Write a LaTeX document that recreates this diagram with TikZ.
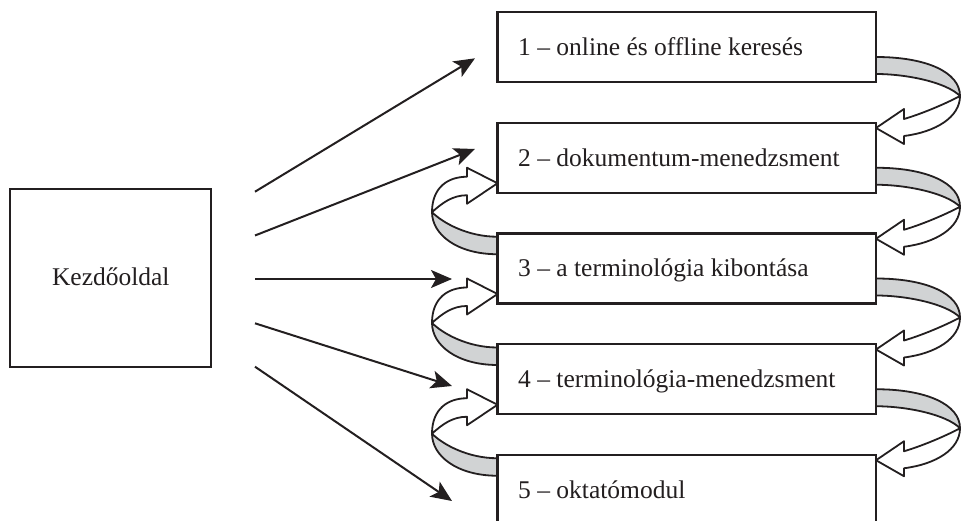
\documentclass[tikz,border=0pt]{standalone}
\usepackage{fontspec}
\setmainfont{Liberation Serif}
\usetikzlibrary{arrows.meta,calc}
\definecolor{ink}{RGB}{35,31,32}
\definecolor{band}{RGB}{209,211,212}
\tikzset{
  box/.style={draw=ink, line width=2.2pt, fill=white, minimum width=378.5pt, minimum height=70pt, inner sep=0pt, outer sep=0pt},
  startbox/.style={draw=ink, line width=2.2pt, fill=white, minimum width=201pt, minimum height=178pt, inner sep=0pt, outer sep=0pt},
  txt/.style={inner sep=0pt, font=\fontsize{25.5}{30}\selectfont, text=ink},
  lbl/.style={txt, anchor=base west},
  ribbon/.style={draw=ink, line width=1.8pt, line join=round},
  conn/.style={draw=ink, line width=2pt, -{Stealth[length=21pt,width=18pt,inset=5pt]}},
  rloop/.pic={
    \filldraw[ribbon, fill=band] (0,45) .. controls (50,45) and (84,60) .. (84,84)
       .. controls (70,70) and (30,62) .. (0,62) -- cycle;
    \filldraw[ribbon, fill=white] (84,84) .. controls (68,92.5) and (45,102) .. (28,107)
       -- (28,97) -- (0,116) -- (28,132) -- (28,124)
       .. controls (60,120) and (84,105) .. (84,84) -- cycle;
  },
  lloop/.pic={
    \filldraw[ribbon, fill=band] (-65.5,89.4) .. controls (-65.5,112) and (-40,131.5) .. (0,131.5)
       -- (0,114) .. controls (-30,114) and (-55,100) .. (-65.5,89.4) -- cycle;
    \filldraw[ribbon, fill=white] (-65.5,89.4) .. controls (-55,80) and (-45,72.5) .. (-30.5,72.5)
       -- (-30.5,81) -- (0,60.5) -- (-30.5,45) -- (-30.5,54)
       .. controls (-50,54) and (-65.5,65) .. (-65.5,89.4) -- cycle;
  },
}
\begin{document}
\begin{tikzpicture}[x=1pt,y=-1pt]
\useasboundingbox (0,0) rectangle (961,521);
\clip (0,0) rectangle (961,521);
% box centres
\path (686.75,47) coordinate (c1) (686.75,157.75) coordinate (c2) (686.75,268.5) coordinate (c3)
      (686.75,379.25) coordinate (c4) (686.75,490) coordinate (c5);
% ribbons (drawn first, boxes on top)
\path ($(c1)+(189.25,-35)$) pic {rloop};
\path ($(c2)+(189.25,-35)$) pic {rloop};
\path ($(c3)+(189.25,-35)$) pic {rloop};
\path ($(c4)+(189.25,-35)$) pic {rloop};
\path ($(c2)+(-189.25,-35)$) pic {lloop};
\path ($(c3)+(-189.25,-35)$) pic {lloop};
\path ($(c4)+(-189.25,-35)$) pic {lloop};
% boxes
\node[box] (b1) at (c1) {};
\node[box] (b2) at (c2) {};
\node[box] (b3) at (c3) {};
\node[box] (b4) at (c4) {};
\node[box] (b5) at (c5) {};
\node[lbl] (t1) at ($(b1.north west)+(20.5,43.3)$) {1 – online és offline keresés};
\node[lbl] (t2) at ($(b2.north west)+(20.5,43.3)$) {2 – dokumentum-menedzsment};
\node[lbl] (t3) at ($(b3.north west)+(20.5,43.3)$) {3 – a terminológia kibontása};
\node[lbl] (t4) at ($(b4.north west)+(20.5,43.3)$) {4 – terminológia-menedzsment};
\node[lbl] (t5) at ($(b5.north west)+(20.5,43.3)$) {5 – oktatómodul};
% start page
\node[startbox] (k) at (110.5,278.3) {};
\node[txt, anchor=base] (kt) at (110.8,286) {Kezdőoldal};
% connectors
\coordinate (s1) at (255,191.7); \coordinate (e1) at (475,58.3);
\coordinate (s2) at (255,235.5); \coordinate (e2) at (475,149);
\coordinate (s3) at (255,279);   \coordinate (e3) at (452,279);
\coordinate (s4) at (255,323.3); \coordinate (e4) at (452,386);
\coordinate (s5) at (255,366.7); \coordinate (e5) at (452,501);
\foreach \i in {1,...,5} { \draw[conn] (s\i) -- (e\i); }
\end{tikzpicture}
\end{document}
